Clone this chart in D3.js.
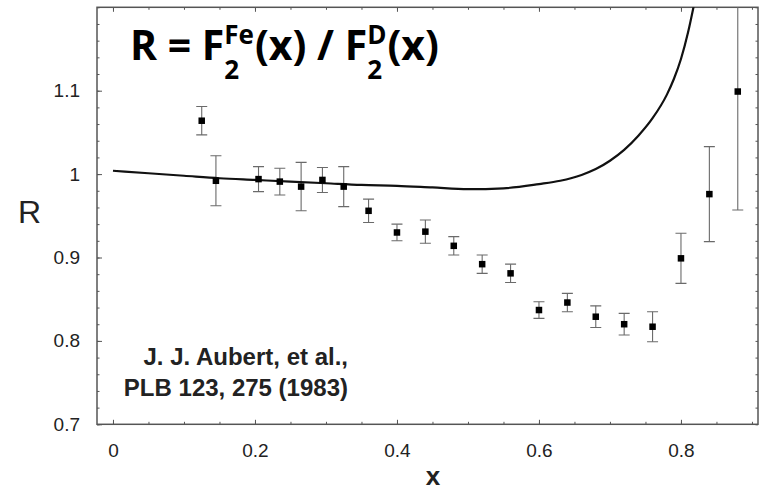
<!DOCTYPE html>
<html>
<head>
<meta charset="utf-8">
<script src="https://cdn.jsdelivr.net/npm/d3@7"></script>
<style>
  body { margin: 0; background: #fff; }
  svg { display: block; }
</style>
</head>
<body>
<script>
// measured points (Aubert et al., EMC)
var xData = [0.125, 0.145, 0.205, 0.235, 0.265, 0.295, 0.325, 0.36, 0.40, 0.44, 0.48,
             0.52, 0.56, 0.60, 0.64, 0.68, 0.72, 0.76, 0.80, 0.84, 0.88];
var rData = [1.064, 0.992, 0.994, 0.991, 0.985, 0.993, 0.985, 0.956, 0.930, 0.931, 0.914,
             0.892, 0.881, 0.837, 0.846, 0.829, 0.820, 0.817, 0.899, 0.976, 1.099];
var errData = [0.017, 0.030, 0.015, 0.016, 0.029, 0.015, 0.024, 0.014, 0.010, 0.014, 0.011,
               0.011, 0.011, 0.010, 0.011, 0.013, 0.013, 0.018, 0.030, 0.057, 0.142];

// theory curve
var curveX = [0, 0.05, 0.1, 0.15, 0.2, 0.25, 0.3, 0.35, 0.4, 0.45, 0.5, 0.55, 0.6, 0.63,
              0.66, 0.68, 0.70, 0.72, 0.74, 0.76, 0.78, 0.79, 0.80, 0.81, 0.82];
var curveR = [1.004, 1.001, 0.998, 0.995, 0.993, 0.991, 0.989, 0.987, 0.986, 0.984, 0.982,
              0.983, 0.988, 0.992, 0.999, 1.006, 1.016, 1.029, 1.046, 1.067, 1.095, 1.114,
              1.138, 1.170, 1.210];

var xTicks = [0, 0.2, 0.4, 0.6, 0.8];
var yTicks = [0.7, 0.8, 0.9, 1, 1.1];

var W = 759, H = 492;
var margin = { top: 7.3, right: 1, bottom: 67.7, left: 97 };

var svg = d3.select("body").append("svg")
  .attr("width", W)
  .attr("height", H);

var xScale = d3.scaleLinear()
  .domain([-0.0225, 0.9085])
  .range([margin.left, W - margin.right]);

var yScale = d3.scaleLinear()
  .domain([0.7, 1.2])
  .range([H - margin.bottom, margin.top]);

var axisColor = "#555";
var labelFont = "'Liberation Sans', Arial, sans-serif";

svg.append("defs").append("clipPath").attr("id", "plot")
  .append("rect")
  .attr("x", xScale.range()[0]).attr("y", yScale.range()[1])
  .attr("width", xScale.range()[1] - xScale.range()[0])
  .attr("height", yScale.range()[0] - yScale.range()[1]);

var minorX = d3.range(0, 0.91, 0.05);
var minorY = d3.range(0.7, 1.2001, 0.02);

function styleAxis(g) {
  g.select(".domain").remove();
  g.selectAll("line").attr("stroke", axisColor);
  g.selectAll("text")
    .attr("fill", "#222")
    .style("font-family", labelFont)
    .style("font-size", "19px");
}

// bottom
svg.append("g")
  .attr("transform", `translate(0,${yScale(0.7)})`)
  .call(d3.axisBottom(xScale).tickValues(minorX).tickFormat("").tickSizeInner(-2.5).tickSizeOuter(0))
  .call(styleAxis);
svg.append("g")
  .attr("transform", `translate(0,${yScale(0.7)})`)
  .call(d3.axisBottom(xScale).tickValues(xTicks).tickFormat(d3.format("")).tickSizeInner(-4.5).tickSizeOuter(0).tickPadding(19))
  .call(styleAxis);

// top
svg.append("g")
  .attr("transform", `translate(0,${yScale(1.2)})`)
  .call(d3.axisTop(xScale).tickValues(minorX).tickFormat("").tickSizeInner(-2.5).tickSizeOuter(0))
  .call(styleAxis);
svg.append("g")
  .attr("transform", `translate(0,${yScale(1.2)})`)
  .call(d3.axisTop(xScale).tickValues(xTicks).tickFormat("").tickSizeInner(-4.5).tickSizeOuter(0))
  .call(styleAxis);

// left
svg.append("g")
  .attr("transform", `translate(${xScale.range()[0]},0)`)
  .call(d3.axisLeft(yScale).tickValues(minorY).tickFormat("").tickSizeInner(-2.5).tickSizeOuter(0))
  .call(styleAxis);
svg.append("g")
  .attr("transform", `translate(${xScale.range()[0]},0)`)
  .call(d3.axisLeft(yScale).tickValues(yTicks).tickFormat(d3.format("")).tickSizeInner(-5).tickSizeOuter(0).tickPadding(17))
  .call(styleAxis);

// right
svg.append("g")
  .attr("transform", `translate(${xScale.range()[1]},0)`)
  .call(d3.axisRight(yScale).tickValues(minorY).tickFormat("").tickSizeInner(-2.5).tickSizeOuter(0))
  .call(styleAxis);

// frame
svg.append("rect")
  .attr("x", xScale.range()[0]).attr("y", yScale.range()[1])
  .attr("width", xScale.range()[1] - xScale.range()[0])
  .attr("height", yScale.range()[0] - yScale.range()[1])
  .attr("fill", "none")
  .attr("stroke", axisColor)
  .attr("stroke-width", 1.5);

// axis titles
svg.append("text")
  .attr("x", 433).attr("y", 485)
  .attr("text-anchor", "middle")
  .style("font-family", labelFont)
  .style("font-size", "26px")
  .style("font-weight", "bold")
  .attr("fill", "#222")
  .text("x");

svg.append("text")
  .attr("x", 18).attr("y", 223)
  .style("font-family", labelFont)
  .style("font-size", "32px")
  .attr("fill", "#222")
  .text("R");

var plot = svg.append("g").attr("clip-path", "url(#plot)");

var points = xData.map(function(d, i) { return { x: d, r: rData[i], e: errData[i] }; });

// error bars
var bars = plot.selectAll(".err")
  .data(points)
  .enter()
  .append("g")
  .attr("class", "err")
  .attr("stroke", "#6a6a6a")
  .attr("stroke-width", 1.1);

bars.append("line")
  .attr("x1", function(d) { return xScale(d.x); })
  .attr("x2", function(d) { return xScale(d.x); })
  .attr("y1", function(d) { return yScale(d.r + d.e); })
  .attr("y2", function(d) { return yScale(d.r - d.e); });
bars.append("line")
  .attr("x1", function(d) { return xScale(d.x) - 5.5; })
  .attr("x2", function(d) { return xScale(d.x) + 5.5; })
  .attr("y1", function(d) { return yScale(d.r + d.e); })
  .attr("y2", function(d) { return yScale(d.r + d.e); });
bars.append("line")
  .attr("x1", function(d) { return xScale(d.x) - 5.5; })
  .attr("x2", function(d) { return xScale(d.x) + 5.5; })
  .attr("y1", function(d) { return yScale(d.r - d.e); })
  .attr("y2", function(d) { return yScale(d.r - d.e); });

// curve
var line = d3.line()
  .x(function(d, i) { return xScale(d); })
  .y(function(d, i) { return yScale(curveR[i]); })
  .curve(d3.curveMonotoneX);

plot.append("path")
  .datum(curveX)
  .attr("d", line)
  .attr("fill", "none")
  .attr("stroke", "#111")
  .attr("stroke-width", 2.2)
  .attr("stroke-linejoin", "round");

// markers
var sq = 6.5;
plot.selectAll(".pt")
  .data(points)
  .enter()
  .append("rect")
  .attr("class", "pt")
  .attr("x", function(d) { return xScale(d.x) - sq / 2; })
  .attr("y", function(d) { return yScale(d.r) - sq / 2; })
  .attr("width", sq)
  .attr("height", sq)
  .attr("fill", "#000");

// citation
var cite = svg.append("text")
  .attr("text-anchor", "end")
  .style("font-family", labelFont)
  .style("font-size", "24px")
  .style("font-weight", "bold")
  .attr("fill", "#222");
cite.append("tspan").attr("x", 348).attr("y", 365).text("J. J. Aubert, et al.,");
cite.append("tspan").attr("x", 348).attr("y", 396).text("PLB 123, 275 (1983)");

// title  R = F2^Fe(x) / F2^D(x)
var titleFont = "'Open Sans', Lato, sans-serif";
var tx = 130, ty = 60;
function part(txt, size, dy) {
  var t = svg.append("text")
    .attr("x", tx).attr("y", ty + dy)
    .style("font-family", titleFont)
    .style("font-size", size + "px")
    .style("font-weight", "bold")
    .attr("fill", "#000")
    .text(txt);
  return t.node().getComputedTextLength();
}
function stacked(sub, sup) {
  var w1 = part(sub, 26, 19);
  var w2 = part(sup, 26, -16);
  tx += Math.max(w1, w2) + 1;
}
tx += part("R = F", 41, 0);
stacked("2", "Fe");
tx += part("(x) / F", 41, 0);
stacked("2", "D");
part("(x)", 41, 0);
</script>
</body>
</html>
